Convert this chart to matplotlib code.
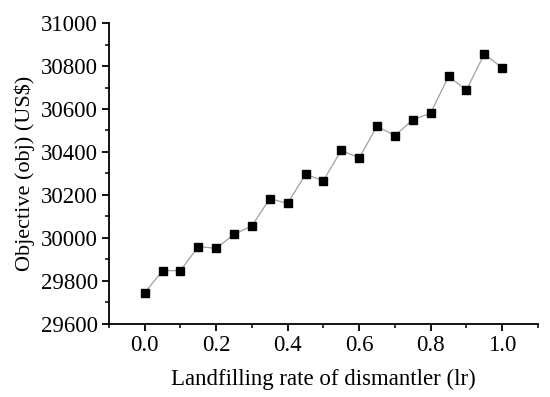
import matplotlib
matplotlib.use("Agg")
import matplotlib.pyplot as plt
from matplotlib.ticker import MultipleLocator

# landfilling rate of dismantler vs objective value
lr = [0.0, 0.05, 0.10, 0.15, 0.20, 0.25, 0.30, 0.35, 0.40, 0.45, 0.50,
      0.55, 0.60, 0.65, 0.70, 0.75, 0.80, 0.85, 0.90, 0.95, 1.0]
obj = [29745, 29848, 29848, 29960, 29952, 30017, 30056, 30183, 30161, 30296, 30267,
       30408, 30372, 30520, 30476, 30550, 30581, 30752, 30688, 30856, 30792]

plt.rcParams['font.family'] = ['Liberation Serif', 'DejaVu Serif']

fig = plt.figure(figsize=(5.5, 3.97), dpi=100)
ax = fig.add_axes([0.198, 0.184, 0.780, 0.758])

ax.plot(lr, obj, '-', color='#a0a0a0', lw=0.9, zorder=1)
ax.plot(lr, obj, 's', color='black', ms=5.3, zorder=2)

ax.set_xlim(-0.1, 1.1)
ax.set_ylim(29600, 31000)
ax.xaxis.set_major_locator(MultipleLocator(0.2))
ax.xaxis.set_minor_locator(MultipleLocator(0.1))
ax.yaxis.set_major_locator(MultipleLocator(200))
ax.yaxis.set_minor_locator(MultipleLocator(100))
ax.set_xticks([0.0, 0.2, 0.4, 0.6, 0.8, 1.0])
ax.set_xticklabels(['0.0', '0.2', '0.4', '0.6', '0.8', '1.0'])

for s in ['top', 'right']:
    ax.spines[s].set_visible(False)
for s in ['left', 'bottom']:
    ax.spines[s].set_linewidth(1.3)

ax.tick_params(which='major', direction='out', length=5, width=1.3, labelsize=16.5, pad=3)
ax.tick_params(which='minor', direction='out', length=3, width=1.1)

ax.set_xlabel('Landfilling rate of dismantler (lr)', fontsize=16.5, labelpad=9)
ax.set_ylabel('Objective (obj) (US$)', fontsize=16, labelpad=4)

fig.savefig('out.png', dpi=100)
